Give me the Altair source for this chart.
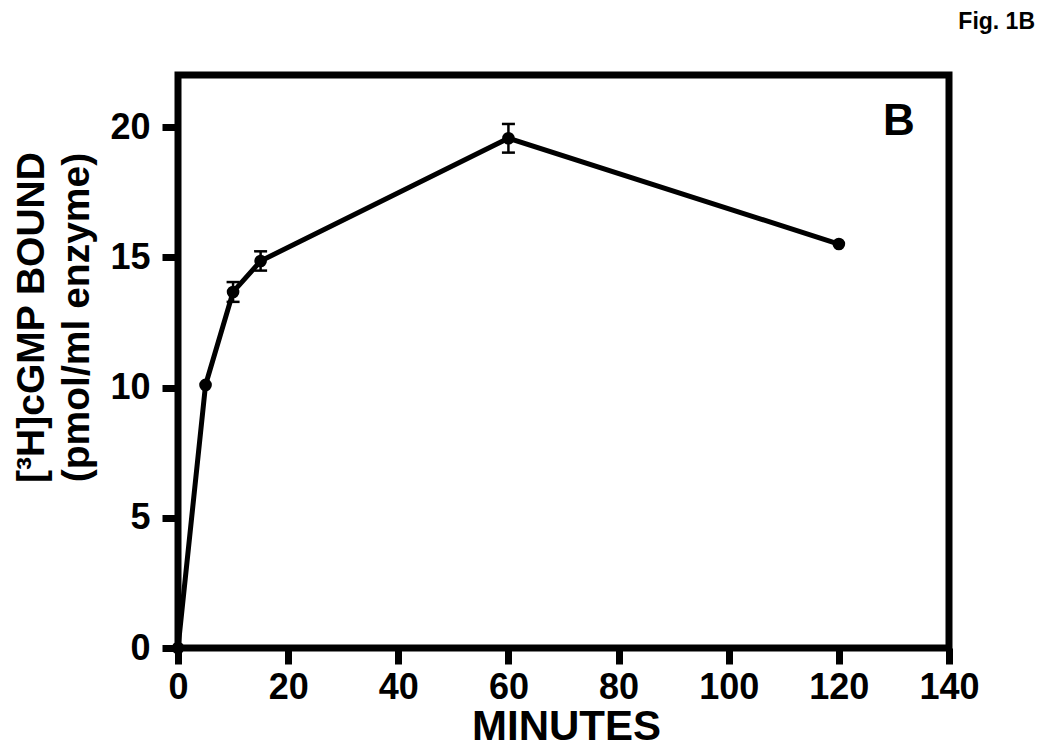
import altair as alt
import pandas as pd

minutes = [0, 5, 10, 15, 60, 120]
bound = [0.0, 10.1, 13.67, 14.86, 19.57, 15.51]
err = [0.0, 0.0, 0.38, 0.37, 0.55, 0.0]

x_ticks = [0, 20, 40, 60, 80, 100, 120, 140]
y_ticks = [0, 5, 10, 15, 20]

panel_label = ["B"]
panel_x = [130.9]
panel_y = [20.21]

FONT = "Liberation Sans, Arial, Helvetica, sans-serif"

df = pd.DataFrame({"min": minutes, "val": bound, "err": err})
df["lo"] = df["val"] - df["err"]
df["hi"] = df["val"] + df["err"]
df_err = df[df["err"] > 0]

xs = alt.Scale(domain=[0, 140], nice=False, zero=False)
ys = alt.Scale(domain=[0, 22], nice=False, zero=False)

x_axis = alt.Axis(
    values=x_ticks, title="MINUTES", domain=False, grid=False,
    tickSize=16, tickWidth=7, tickColor="black",
    labelFont=FONT, labelFontSize=36, labelFontWeight="bold", labelColor="black",
    labelPadding=6, labelBaseline="top", labelFlush=False, labelOverlap=False,
    titleFont=FONT, titleFontSize=42, titleFontWeight="bold", titleColor="black",
    titleX=388, titleY=91, titleBaseline="alphabetic", titleAlign="center",
)
y_axis = alt.Axis(
    values=y_ticks, title=["[³H]cGMP BOUND", "(pmol/ml enzyme)"], domain=False, grid=False,
    tickSize=16, tickWidth=7, tickColor="black",
    labelFont=FONT, labelFontSize=36, labelFontWeight="bold", labelColor="black",
    labelPadding=12, labelFlush=False, labelOverlap=False,
    titleFont=FONT, titleFontSize=39, titleFontWeight="bold", titleColor="black",
    titleAngle=-90, titleX=-135, titleY=242, titleBaseline="alphabetic",
    titleAlign="center", titleLineHeight=45,
)

base = alt.Chart(df)

line = base.mark_line(color="black", strokeWidth=5).encode(
    x=alt.X("min:Q", scale=xs, axis=x_axis),
    y=alt.Y("val:Q", scale=ys, axis=y_axis),
)
pts = base.mark_circle(color="black", size=160, opacity=1).encode(
    x=alt.X("min:Q", scale=xs),
    y=alt.Y("val:Q", scale=ys),
)
ebar = alt.Chart(df_err).mark_rule(color="black", strokeWidth=2.5).encode(
    x=alt.X("min:Q", scale=xs),
    y=alt.Y("lo:Q", scale=ys),
    y2="hi:Q",
)
cap_lo = alt.Chart(df_err).mark_tick(color="black", size=13, thickness=2.5, orient="horizontal", opacity=1).encode(
    x=alt.X("min:Q", scale=xs),
    y=alt.Y("lo:Q", scale=ys),
)
cap_hi = alt.Chart(df_err).mark_tick(color="black", size=13, thickness=2.5, orient="horizontal", opacity=1).encode(
    x=alt.X("min:Q", scale=xs),
    y=alt.Y("hi:Q", scale=ys),
)
lab = alt.Chart(pd.DataFrame({"t": panel_label, "x": panel_x, "y": panel_y})).mark_text(
    font=FONT, fontSize=44, fontWeight="bold", color="black", align="center", baseline="middle"
).encode(
    x=alt.X("x:Q", scale=xs),
    y=alt.Y("y:Q", scale=ys),
    text="t:N",
)

chart = alt.layer(line, ebar, cap_lo, cap_hi, pts, lab).properties(
    width=771, height=573,
    autosize=alt.AutoSizeParams(type="none"),
    padding={"left": 170, "top": 67, "right": 92, "bottom": 99},
    title=alt.TitleParams(
        "Fig. 1B", anchor="end", frame="group", font=FONT, fontSize=23,
        fontWeight="bold", color="black", dx=86, offset=23, baseline="alphabetic",
    ),
).configure(background="white").configure_view(stroke="black", strokeWidth=7)

chart.save("out.html", embed_options={"renderer": "svg", "actions": False})
